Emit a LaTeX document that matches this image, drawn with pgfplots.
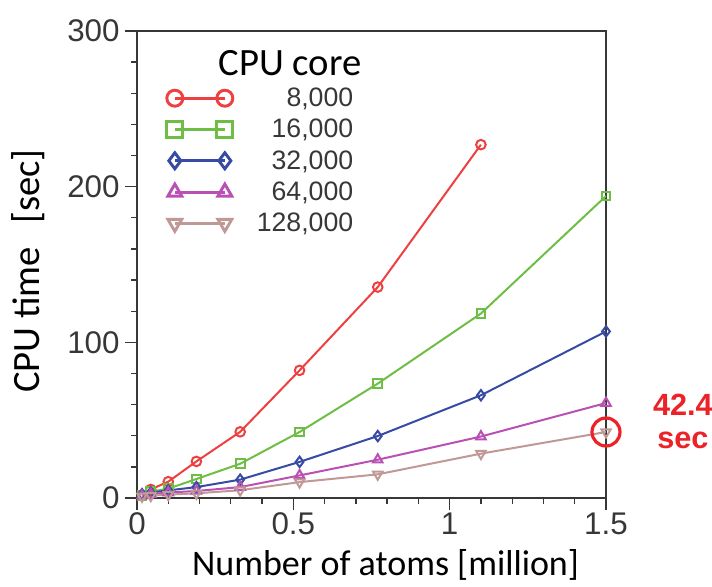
\documentclass[border=0pt]{standalone}
\usepackage{pgfplots}
\pgfplotsset{compat=1.18}
\usepackage{fontspec}
\setmainfont{Liberation Sans}
\newfontfamily\labelfont{Carlito}

\definecolor{cRed}{RGB}{238,64,64}
\definecolor{cGreen}{RGB}{110,190,70}
\definecolor{cBlue}{RGB}{55,75,165}
\definecolor{cPink}{RGB}{185,80,180}
\definecolor{cBrown}{RGB}{192,152,150}
\definecolor{cNote}{RGB}{235,35,40}
\definecolor{axisgray}{RGB}{55,55,55}

\begin{document}
\begin{tikzpicture}
\useasboundingbox (-102.75pt,-66pt) rectangle (431.25pt,373.5pt);
\begin{axis}[
  at={(0,0)}, anchor=south west,
  width=351.75pt, height=350.25pt, scale only axis,
  xmin=0, xmax=1.5, ymin=0, ymax=300,
  xtick={0,0.5,1,1.5}, xticklabels={0,0.5,1,1.5},
  ytick={0,100,200,300}, yticklabels={0,100,200,300},
  minor x tick num=4, minor y tick num=4,
  xtick pos=bottom, ytick pos=left,
  tick align=outside,
  major tick length=9pt, minor tick length=4.5pt,
  axis line style={axisgray, line width=1.2pt},
  every tick/.style={axisgray, line width=1pt},
  tick label style={font=\fontsize{23.5}{23.5}\selectfont, text=axisgray},
  xticklabel style={yshift=2pt},
  xlabel={\labelfont Number of atoms [million]},
  ylabel={\labelfont CPU time\hspace{0.6em}[sec]},
  xlabel style={font=\fontsize{27}{27}\selectfont, at={(axis description cs:0.53,-0.143)}, anchor=center},
  ylabel style={font=\fontsize{29}{29}\selectfont, at={(axis description cs:-0.232,0.486)}, anchor=center},
  clip=false,
  line width=1.5pt,
  legend cell align=right,
  legend style={draw=none, fill=none, at={(axis description cs:0.0615,0.886)}, anchor=north west,
    font=\fontsize{20}{20}\selectfont, text=axisgray, row sep=4pt, column sep=16pt,
    inner sep=0pt},
  legend image code/.code={
    \draw[#1, line width=2.2pt] (0pt,0pt) -- (37.5pt,0pt);
    \draw[#1, line width=2.2pt, mark size=6pt] plot coordinates {(0pt,0pt) (37.5pt,0pt)};
  },
]
\addplot[cRed, mark=o, mark size=3.6pt] coordinates {
  (0.044,5.5) (0.1,10.5) (0.19,23.5) (0.33,42.5) (0.52,82) (0.77,135.5) (1.1,227)
};
\addlegendentry{8,000}
\addplot[cGreen, mark=square, mark size=3.3pt] coordinates {
  (0.016,1.5) (0.044,4) (0.1,6) (0.19,12.2) (0.33,22) (0.52,42.4) (0.77,73.5) (1.1,118.5) (1.5,194)
};
\addlegendentry{16,000}
\addplot[cBlue, mark=diamond, mark size=3.9pt] coordinates {
  (0.016,2.5) (0.044,3.5) (0.1,4.9) (0.19,7) (0.33,11.8) (0.52,23.2) (0.77,39.8) (1.1,66) (1.5,107)
};
\addlegendentry{32,000}
\addplot[cPink, mark=triangle, mark size=4.1pt] coordinates {
  (0.016,1.5) (0.044,2.5) (0.1,3.5) (0.19,4.5) (0.33,7) (0.52,14.5) (0.77,24.6) (1.1,39.5) (1.5,61)
};
\addlegendentry{64,000}
\addplot[cBrown, mark=triangle, mark options={rotate=180}, mark size=4.1pt] coordinates {
  (0.016,1) (0.044,1.5) (0.1,2.2) (0.19,3) (0.33,5) (0.52,10.2) (0.77,15.2) (1.1,28.5) (1.5,42.4)
};
\addlegendentry{128,000}

% legend heading
\node[anchor=center, font=\labelfont\fontsize{29}{29}\selectfont] at (axis description cs:0.326,0.931) {CPU core};

% highlighted final value
\draw[cNote, line width=2.4pt] (axis cs:1.5,42.4) circle (10.5pt);
\node[cNote, font=\bfseries\fontsize{23}{23}\selectfont] at (axis cs:1.746,60.2) {42.4};
\node[cNote, font=\bfseries\fontsize{23}{23}\selectfont] at (axis cs:1.746,37) {sec};
\end{axis}
\end{tikzpicture}
\end{document}
